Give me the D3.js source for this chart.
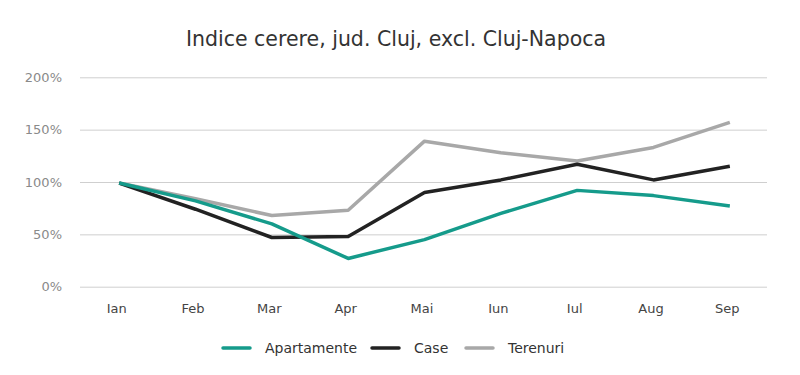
<!DOCTYPE html>
<html>
<head>
<meta charset="utf-8">
<script src="https://cdn.jsdelivr.net/npm/d3@7"></script>
<style>
    body { margin: 0; background: #fff; }
    svg { font-family: 'DejaVu Sans', sans-serif; }
</style>
</head>
<body>
<div id="chart"></div>
<script>
// data
let months = ['Ian', 'Feb', 'Mar', 'Apr', 'Mai', 'Iun', 'Iul', 'Aug', 'Sep']

let apartamente = [99, 82, 60, 27, 45, 70, 92, 87, 77]
let casa = [99, 74, 47, 48, 90, 102, 117, 102, 115]
let terenuri = [99, 84, 68, 73, 139, 128, 120, 133, 157]

let yTicks = [0, 50, 100, 150, 200]

let seriesNames = ['Apartamente', 'Case', 'Terenuri']
let seriesColors = ['#159b8b', '#222222', '#a8a8a8']

let width = 800, height = 375

let margin = { left: 80, right: 33, top: 77, bottom: 89 }

let svg = d3.select('#chart')
.append('svg')
.attr('width', width)
.attr('height', height)

let x = d3.scalePoint()
.domain(months)
.range([81, 768])
.padding(0.5)

let y = d3.scaleLinear()
.domain([0, 200])
.range([height - margin.bottom + 0.7, margin.top + 0.3])

// title
svg.append('text')
.attr('x', 396)
.attr('y', 46)
.attr('text-anchor', 'middle')
.style('font-size', '20.5px')
.style('fill', '#333')
.text('Indice cerere, jud. Cluj, excl. Cluj-Napoca')

// grid + y labels
let yAxis = d3.axisLeft(y)
.tickValues(yTicks)
.tickSize(-(width - margin.left - margin.right))
.tickPadding(18)
.tickFormat(d => d + '%')

svg.append('g')
.attr('transform', `translate(${margin.left},0)`)
.call(yAxis)
.call(g => g.select('.domain').remove())
.call(g => g.selectAll('line').attr('stroke', '#cfcfcf').attr('stroke-width', 1))
.call(g => g.selectAll('text').style('font-size', '13px').style('fill', '#8a8a8a').style('font-family', "'DejaVu Sans', sans-serif"))

// x labels
let xAxis = d3.axisBottom(x).tickSize(0).tickPadding(17)

svg.append('g')
.attr('transform', `translate(-3,${y(0)})`)
.call(xAxis)
.call(g => g.select('.domain').remove())
.call(g => g.selectAll('text').style('font-size', '13px').style('fill', '#444').style('font-family', "'DejaVu Sans', sans-serif"))

// lines
let allSeries = [apartamente, casa, terenuri]
let drawOrder = [2, 1, 0]

let line = d3.line()
.x((d, i) => x(months[i]))
.y(d => y(d))

drawOrder.forEach(k => {
    svg.append('path')
    .datum(allSeries[k])
    .attr('d', line)
    .attr('fill', 'none')
    .attr('stroke', seriesColors[k])
    .attr('stroke-width', 3.5)
    .attr('stroke-linejoin', 'round')
})

// legend
let legendX = [223, 372, 466]
let legend = svg.append('g')
.attr('transform', 'translate(0,348)')

seriesNames.forEach((name, i) => {
    legend.append('line')
    .attr('x1', legendX[i])
    .attr('x2', legendX[i] + 27)
    .attr('y1', 0)
    .attr('y2', 0)
    .attr('stroke', seriesColors[i])
    .attr('stroke-width', 3.5)
    .attr('stroke-linecap', 'round')

    legend.append('text')
    .attr('x', legendX[i] + 42)
    .attr('y', 5)
    .style('font-size', '14px')
    .style('fill', '#333')
    .text(name)
})
</script>
</body>
</html>
